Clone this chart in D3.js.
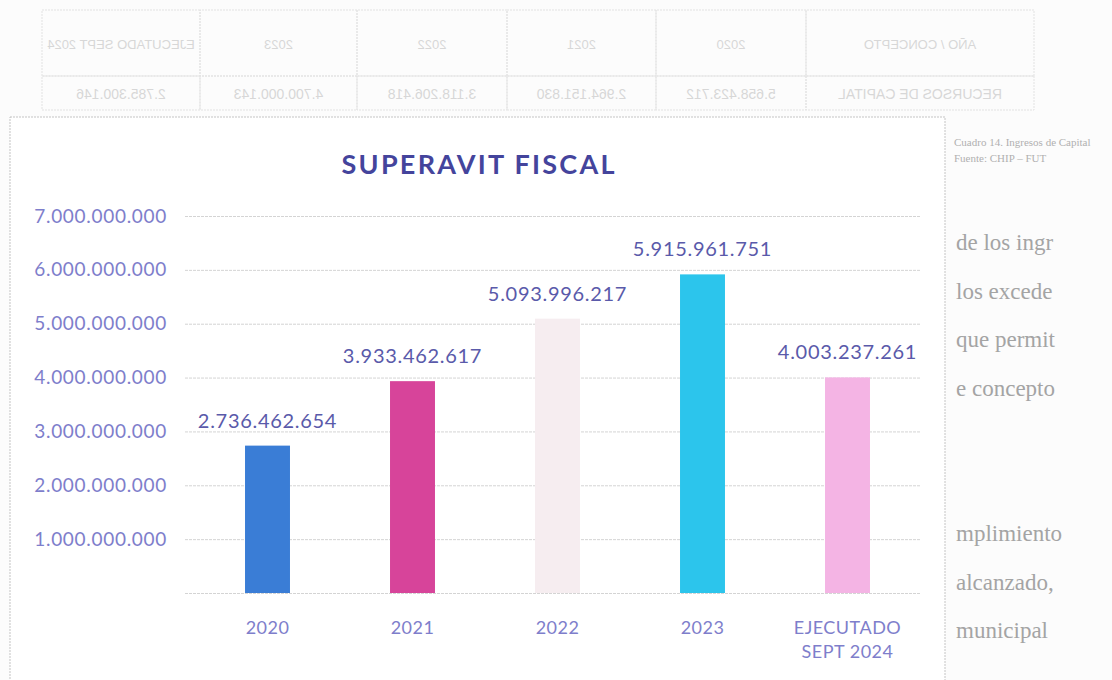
<!DOCTYPE html>
<html>
<head>
<meta charset="utf-8">
<script src="https://cdnjs.cloudflare.com/ajax/libs/d3/7.8.5/d3.min.js"></script>
<style>
  html, body { margin: 0; padding: 0; background: #fcfcfc; }
  svg { display: block; }
</style>
</head>
<body>
<div id="chart"></div>
<script>
// Data
var categories = ["2020", "2021", "2022", "2023", "EJECUTADO SEPT 2024"];
var values = [2736462654, 3933462617, 5093996217, 5915961751, 4003237261];
var barColors = ["#3a7dd6", "#d7449a", "#f6edf0", "#2cc5ec", "#f4b4e4"];
var yTicks = [1e9, 2e9, 3e9, 4e9, 5e9, 6e9, 7e9];
var gridTicks = [0, 1e9, 2e9, 3e9, 4e9, 5e9, 6e9, 7e9];

// page text around the chart (scan), only the ends of the lines show
var bodyEnds = ["de los ingr", "los excede", "que permit", "e concepto", "", "", "mplimiento", "alcanzado,", "municipal"];
var tableHeaders = ["AÑO / CONCEPTO", "2020", "2021", "2022", "2023", "EJECUTADO SEPT 2024"];
var tableRow = ["RECURSOS DE CAPITAL", "5.658.423.712", "2.964.151.830", "3.118.206.418", "4.700.000.143", "2.785.300.146"];
var captionLines = ["Cuadro 14. Ingresos de Capital", "Fuente: CHIP – FUT"];

var W = 1112, H = 680,
    font_family = "Lato, 'Open Sans', sans-serif",
    frame = {x: 10, y: 117, w: 935, h: 600},
    plot = {left: 185, right: 920, top: 216, bottom: 593},
    label_x = 167;

var fmt = d3.formatLocale({decimal: ",", thousands: ".", grouping: [3], currency: ["$", ""]}).format(",d");

var svg = d3.select("#chart").append("svg")
  .attr("width", W)
  .attr("height", H);

//////////////// Scanned page background ////////////////
var page = svg.append("g").attr("class", "page");

// mirrored table bleeding through from the back side
var table = page.append("g")
  .attr("transform", "translate(1076,0) scale(-1,1)")
  .attr("opacity", 0.32);
var colX = [42, 270, 420, 569, 719, 876];
var colW = [228, 150, 149, 150, 157, 158];
table.selectAll("rect.cell-h")
  .data(tableHeaders).enter().append("rect")
  .attr("x", function(d, i) { return colX[i]; })
  .attr("y", 10).attr("width", function(d, i) { return colW[i]; }).attr("height", 66)
  .attr("fill", "none").attr("stroke", "#b0b0b0").attr("stroke-dasharray", "2,1");
table.selectAll("rect.cell-r")
  .data(tableRow).enter().append("rect")
  .attr("x", function(d, i) { return colX[i]; })
  .attr("y", 76).attr("width", function(d, i) { return colW[i]; }).attr("height", 34)
  .attr("fill", "none").attr("stroke", "#b0b0b0").attr("stroke-dasharray", "2,1");
table.selectAll("text.h")
  .data(tableHeaders).enter().append("text")
  .attr("x", function(d, i) { return colX[i] + colW[i] / 2; })
  .attr("y", 49)
  .attr("text-anchor", "middle")
  .attr("font-family", "'Liberation Sans Narrow', 'Liberation Sans', sans-serif")
  .attr("font-size", 13)
  .attr("fill", "#8a8a8a")
  .text(function(d) { return d; });
table.selectAll("text.r")
  .data(tableRow).enter().append("text")
  .attr("x", function(d, i) { return colX[i] + colW[i] / 2; })
  .attr("y", 99)
  .attr("text-anchor", "middle")
  .attr("font-family", "'Liberation Sans Narrow', 'Liberation Sans', sans-serif")
  .attr("font-size", 14)
  .attr("fill", "#8a8a8a")
  .text(function(d) { return d; });

// caption to the right of the chart
page.selectAll("text.caption")
  .data(captionLines).enter().append("text")
  .attr("x", 954)
  .attr("y", function(d, i) { return 146 + i * 16; })
  .attr("font-family", "'Liberation Serif', serif")
  .attr("font-size", 11)
  .attr("fill", "#b0b0b0")
  .text(function(d) { return d; });

// body text line ends to the right of the chart
page.selectAll("text.body")
  .data(bodyEnds).enter().append("text")
  .attr("x", 956)
  .attr("y", function(d, i) { return 250 + i * 48.5; })
  .attr("font-family", "'Liberation Serif', 'DejaVu Serif', serif")
  .attr("font-size", 23)
  .attr("fill", "#a4a4a4")
  .text(function(d) { return d; });

//////////////// Chart ////////////////
var chart = svg.append("g").attr("class", "chart");

chart.append("rect")
  .attr("x", frame.x).attr("y", frame.y)
  .attr("width", frame.w).attr("height", frame.h)
  .attr("fill", "#ffffff")
  .attr("stroke", "#c4c4c4").attr("stroke-dasharray", "2,1");

var xScale = d3.scaleBand()
  .domain(categories)
  .range([195, plot.right])
  .paddingInner(0.69)
  .paddingOuter(0.345);
var yScale = d3.scaleLinear()
  .domain([0, 7e9])
  .range([plot.bottom, plot.top]);

// Title
chart.append("text")
  .attr("x", 478)
  .attr("y", 174)
  .attr("text-anchor", "middle")
  .attr("font-family", font_family)
  .attr("font-weight", "bold")
  .attr("font-size", 27)
  .attr("fill", "#44449c")
  .attr("textLength", 273)
  .attr("lengthAdjust", "spacing")
  .text("SUPERAVIT FISCAL");

// Gridlines
var grid = chart.append("g")
  .attr("transform", "translate(" + plot.left + ",0)")
  .call(d3.axisLeft(yScale).tickValues(gridTicks).tickSize(-(plot.right - plot.left)).tickFormat(""));
grid.select(".domain").remove();
grid.selectAll("line")
  .attr("stroke", "#d4d4d4")
  .attr("stroke-dasharray", "3,1");

// Y axis labels
var yAxis = chart.append("g")
  .attr("transform", "translate(" + label_x + ",0)")
  .call(d3.axisLeft(yScale).tickValues(yTicks).tickSize(0).tickPadding(0).tickFormat(fmt));
yAxis.select(".domain").remove();
yAxis.selectAll("text")
  .attr("font-family", font_family)
  .attr("font-size", 19)
  .attr("letter-spacing", 0.7)
  .attr("fill", "#7e7ecb");

// Bars
chart.selectAll("rect.bar")
  .data(values).enter().append("rect")
  .attr("class", "bar")
  .attr("x", function(d, i) { return xScale(categories[i]); })
  .attr("y", function(d) { return yScale(d); })
  .attr("width", xScale.bandwidth())
  .attr("height", function(d) { return yScale(0) - yScale(d); })
  .attr("fill", function(d, i) { return barColors[i]; });

// Value labels
chart.selectAll("text.value")
  .data(values).enter().append("text")
  .attr("class", "value")
  .attr("x", function(d, i) { return xScale(categories[i]) + xScale.bandwidth() / 2; })
  .attr("y", function(d) { return yScale(d) - 18; })
  .attr("text-anchor", "middle")
  .attr("font-family", font_family)
  .attr("font-size", 20)
  .attr("letter-spacing", 0.7)
  .attr("fill", "#5a5aaa")
  .text(function(d) { return fmt(d); });

// X axis labels
var xAxis = chart.append("g")
  .attr("transform", "translate(0," + plot.bottom + ")")
  .call(d3.axisBottom(xScale).tickSize(0).tickPadding(0).tickFormat(""));
xAxis.select(".domain").remove();
xAxis.selectAll(".tick").append("text")
  .attr("text-anchor", "middle")
  .attr("font-family", font_family)
  .attr("font-size", 18)
  .attr("letter-spacing", 0.5)
  .attr("fill", "#7e7ecb")
  .selectAll("tspan")
  .data(function(d) { return d.indexOf("SEPT") != -1 ? ["EJECUTADO", "SEPT 2024"] : [d]; })
  .enter().append("tspan")
    .attr("x", 0)
    .attr("y", function(d, i) { return 41 + i * 24; })
    .text(function(d) { return d; });
</script>
</body>
</html>
